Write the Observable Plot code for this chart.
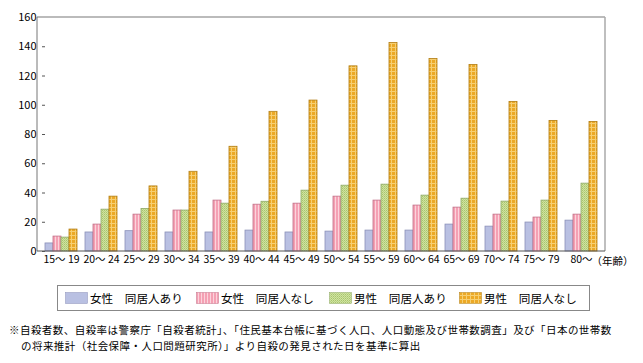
<!DOCTYPE html>
<html><head><meta charset="utf-8">
<script src="https://cdn.jsdelivr.net/npm/d3@7"></script>
<script src="https://cdn.jsdelivr.net/npm/@observablehq/plot@0.6"></script>
<style>
body{margin:0;background:#fff;font-family:"Noto Sans CJK JP",sans-serif;}
#legend{position:absolute;left:57px;top:285px;width:533px;height:26px;border:1px solid #888;box-sizing:border-box;font-size:11.6px;color:#000;white-space:nowrap}
#legend .it{position:absolute;top:5px;display:flex;align-items:center;height:14px}
#legend svg{margin-right:2px}
#cap{position:absolute;left:9px;top:322px;font-size:10.5px;line-height:15.5px;letter-spacing:0.45px;color:#000;white-space:nowrap}
#cap .l2{padding-left:12px}
</style></head>
<body>
<div id="chart"></div>
<div id="legend"></div>
<div id="cap"><div>※自殺者数、自殺率は警察庁「自殺者統計」、「住民基本台帳に基づく人口、人口動態及び世帯数調査」及び「日本の世帯数</div><div class="l2">の将来推計（社会保障・人口問題研究所）」より自殺の発見された日を基準に算出</div></div>
<script>
const ageGroups = ["15～ 19","20～ 24","25～ 29","30～ 34","35～ 39","40～ 44","45～ 49","50～ 54","55～ 59","60～ 64","65～ 69","70～ 74","75～ 79","80～"];
const seriesNames = ["女性　同居人あり","女性　同居人なし","男性　同居人あり","男性　同居人なし"];
const femaleWith    = [5.5, 13, 13.9, 13, 13, 14.3, 13, 13.6, 14.3, 14.3, 18.4, 17, 19.8, 21.1];
const femaleWithout = [10.2, 18.4, 25.2, 28, 34.8, 32, 32.7, 37.5, 34.8, 31.4, 30, 25.2, 23.2, 25.2];
const maleWith      = [9.5, 28.6, 29.1, 28, 32.7, 34, 41.6, 45, 45.7, 38.2, 36.1, 34.1, 34.8, 46.4];
const maleWithout   = [15, 37.5, 44.5, 54.5, 71.6, 95.5, 103.2, 126.6, 142.5, 131.6, 127.5, 102.3, 89.3, 88.6];
const yTicks = [0,20,40,60,80,100,120,140,160];
const unitLabel = "（年齢）";

const seriesValues = [femaleWith, femaleWithout, maleWith, maleWithout];
const fills = ["url(#pBlue)","url(#pPink)","url(#pGreen)","url(#pOrange)"];
const strokes = ["#8a90b8","#c27088","#8ea866","#b07c12"];
const data = [];
ageGroups.forEach((g,i)=>seriesNames.forEach((s,j)=>data.push({g, s, v: seriesValues[j][i]})));

const defs = `
<pattern id="pBlue" width="4" height="4" patternUnits="userSpaceOnUse"><rect width="4" height="4" fill="#b9c0e2"/></pattern>
<pattern id="pPink" width="3" height="3" patternUnits="userSpaceOnUse"><rect width="3" height="3" fill="#f4a0b3"/><rect x="2" width="1" height="3" fill="#fbd3dc"/></pattern>
<pattern id="pGreen" width="2" height="2" patternUnits="userSpaceOnUse"><rect width="2" height="2" fill="#cfe4a0"/><rect width="1" height="1" fill="#a9c46e"/><rect x="1" y="1" width="1" height="1" fill="#b8d083"/></pattern>
<pattern id="pOrange" width="4" height="4" patternUnits="userSpaceOnUse"><rect width="4" height="4" fill="#eca926"/><rect x="3" width="1" height="4" fill="#f6cf72"/><rect y="3" width="4" height="1" fill="#f6cf72"/></pattern>`;

const W = 643, mL = 37, mR = 38;
const plot = Plot.plot({
  width: W, height: 270,
  marginLeft: mL, marginRight: mR, marginTop: 17, marginBottom: 19,
  style: {fontSize: "11px", fontFamily: "'Noto Sans CJK JP', sans-serif", color: "#000", background: "#fff"},
  fx: {domain: ageGroups, paddingInner: 0.2, paddingOuter: 0.08, label: null, axis: null},
  x: {domain: seriesNames, padding: 0, axis: null},
  y: {domain: [0,160], ticks: yTicks, label: null, axis: null},
  color: {domain: seriesNames, range: fills},
  marks: [
    Plot.axisY({ticks: yTicks, tickSize: 3, tickPadding: 6, label: null, stroke: "#555"}),
    Plot.axisFx({label: null, tickSize: 0, tickPadding: 4, anchor: "bottom", fontSize: "10.5px"}),
    Plot.barY(data, {fx: "g", x: "s", y: "v", fill: "s", stroke: (d)=>strokes[seriesNames.indexOf(d.s)], strokeWidth: 0.8, inset: 0}),
    Plot.text([{g: "80～", t: unitLabel}], {fx: "g", text: "t", frameAnchor: "bottom", textAnchor: "start", dy: 13, dx: 10, fontSize: "10.5px"})
  ]
});
document.getElementById("chart").appendChild(plot);
const svg = d3.select(plot);
svg.insert("defs", ":first-child").html(defs);
const ys = plot.scale("y");
const L = mL, R = W - mR, T = ys.apply(160), B = ys.apply(0);
svg.append("line").attr("x1",L).attr("x2",R).attr("y1",T).attr("y2",T).attr("stroke","#bbb").attr("stroke-width",2);
svg.append("line").attr("x1",R).attr("x2",R).attr("y1",T).attr("y2",B).attr("stroke","#aaa").attr("stroke-width",1.5);
svg.append("line").attr("x1",L).attr("x2",L).attr("y1",T).attr("y2",B).attr("stroke","#777");
svg.append("line").attr("x1",L).attr("x2",R).attr("y1",B).attr("y2",B).attr("stroke","#555");

const lg = d3.select("#legend");
const legendLeft = [7, 138, 271, 401];
seriesNames.forEach((s,j)=>{
  const it = lg.append("div").attr("class","it").style("left", legendLeft[j] + "px");
  it.append("svg").attr("width",23).attr("height",12).html(`<defs>${defs.replace(/id="p/g,'id="l'+j+'p')}</defs><rect x="0.5" y="0.5" width="22" height="11" fill="${fills[j].replace('#p','#l'+j+'p')}" stroke="${strokes[j]}" stroke-width="0.5"/>`);
  it.append("span").text(s);
});
</script>
</body></html>
